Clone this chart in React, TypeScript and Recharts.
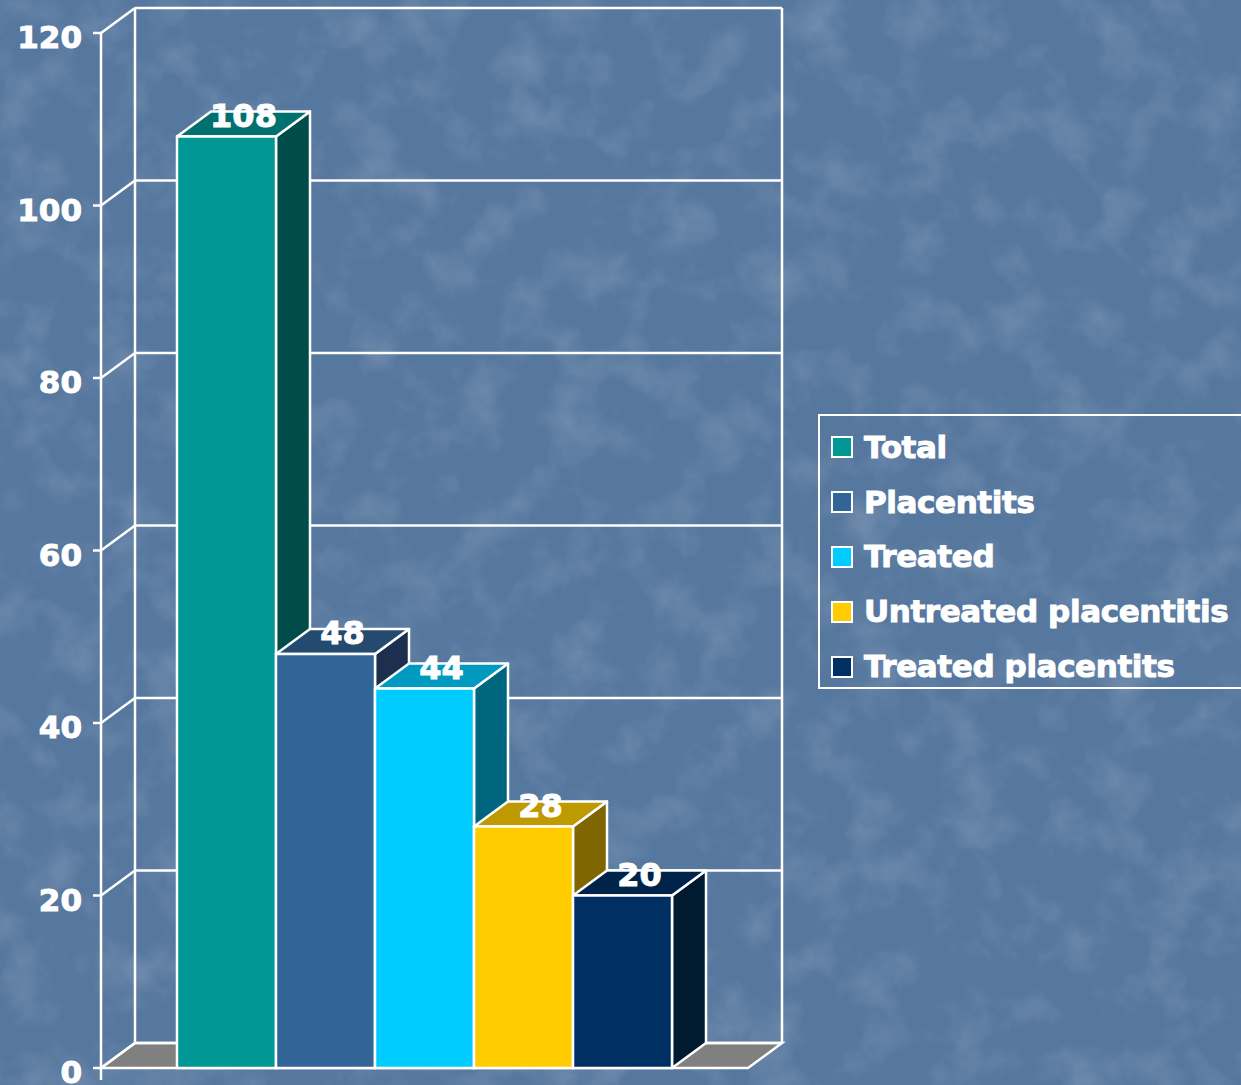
import React from "react";
import { BarChart, Bar, XAxis, YAxis, CartesianGrid, LabelList } from "recharts";

const seriesNames = ["Total", "Placentits", "Treated", "Untreated placentitis", "Treated placentits"];
const seriesValues = [108, 48, 44, 28, 20];
const yTicks = [0, 20, 40, 60, 80, 100, 120];

// front / top / side shades for each bar
const frontColors = ["#009794", "#316497", "#00ccff", "#ffcc00", "#002f63"];
const topColors = ["#00716f", "#244a70", "#0099bf", "#bf9900", "#00234a"];
const sideColors = ["#004c4a", "#1d2f4e", "#006680", "#806600", "#001a30"];

const keys = seriesNames.map((_, i) => `s${i}`);
const chartData = [
  seriesValues.reduce((row: Record<string, number | string>, v, i) => {
    row[keys[i]] = v;
    return row;
  }, { name: "" }),
];

const W = 1241;
const H = 1085;
const DX = 34;
const DY = 25;
const FONT = "'DejaVu Sans', Verdana, sans-serif";
const LINE = 2.5;

function Bar3D(props: any) {
  const { x, y, width, height, index, fillIndex } = props;
  const i = fillIndex;
  const w = width;
  const h = height;
  const top = `${x},${y} ${x + DX},${y - DY} ${x + w + DX},${y - DY} ${x + w},${y}`;
  const side = `${x + w},${y} ${x + w + DX},${y - DY} ${x + w + DX},${y + h - DY} ${x + w},${y + h}`;
  return (
    <g key={index}>
      <polygon points={side} fill={sideColors[i]} stroke="#fff" strokeWidth={LINE} strokeLinejoin="round" />
      <polygon points={top} fill={topColors[i]} stroke="#fff" strokeWidth={LINE} strokeLinejoin="round" />
      <rect x={x} y={y} width={w} height={h} fill={frontColors[i]} stroke="#fff" strokeWidth={LINE} />
    </g>
  );
}

function WallLine(props: any) {
  const { x1, y1, x2, y, height } = props;
  const bottom = typeof y === "number" && typeof height === "number" ? y + height : 1068;
  const topY = typeof y === "number" ? y : 33;
  const isFloor = Math.abs(y1 - bottom) < 1;
  const isTop = Math.abs(y1 - topY) < 1;
  return (
    <g>
      {isFloor && (
        <polygon
          points={`${x1},${y1} ${x1 + DX},${y1 - DY} ${x2 + DX},${y1 - DY} ${x2},${y1}`}
          fill="#808080"
          stroke="#fff"
          strokeWidth={LINE}
        />
      )}
      <line x1={x1} y1={y1} x2={x1 + DX} y2={y1 - DY} stroke="#fff" strokeWidth={LINE} />
      <line x1={x1 + DX} y1={y1 - DY} x2={x2 + DX} y2={y1 - DY} stroke="#fff" strokeWidth={LINE} />
      {isTop && (
        <>
          <line x1={x1 + DX} y1={y1 - DY} x2={x1 + DX} y2={bottom - DY} stroke="#fff" strokeWidth={LINE} />
          <line x1={x2 + DX} y1={y1 - DY} x2={x2 + DX} y2={bottom - DY} stroke="#fff" strokeWidth={LINE} />
        </>
      )}
    </g>
  );
}

function YTick(props: any) {
  const { y, payload } = props;
  const ax = 101;
  return (
    <g>
      <line x1={ax - 8} y1={y} x2={ax} y2={y} stroke="#fff" strokeWidth={LINE} />
      {payload.value === 0 && <line x1={ax} y1={y} x2={ax} y2={y + 12} stroke="#fff" strokeWidth={LINE} />}
      <text
        x={ax - 19}
        y={y + 15}
        textAnchor="end"
        fill="#fff"
        stroke="#fff"
        strokeWidth={1}
        fontFamily={FONT}
        fontWeight="bold"
        fontSize={31}
      >
        {payload.value}
      </text>
    </g>
  );
}

function ValueLabel(props: any) {
  const { x, y, width, value } = props;
  return (
    <text
      x={x + width / 2 + DX / 2}
      y={y - 10}
      textAnchor="middle"
      fill="#fff"
      stroke="#fff"
      strokeWidth={1}
      fontFamily={FONT}
      fontWeight="bold"
      fontSize={32}
    >
      {value}
    </text>
  );
}

function Legend3D() {
  return (
    <div
      style={{
        position: "absolute",
        left: 818,
        top: 414,
        width: 440,
        height: 275,
        border: "2px solid #fff",
        boxSizing: "border-box",
        paddingTop: 4,
      }}
    >
      {seriesNames.map((n, i) => (
        <div key={n} style={{ display: "flex", alignItems: "center", height: 54.8, marginLeft: 11 }}>
          <div
            style={{
              width: 18,
              height: 18,
              background: frontColors[i],
              border: "2px solid #fff",
              marginRight: 11,
            }}
          />
          <span
            style={{
              color: "#fff",
              fontFamily: FONT,
              fontWeight: "bold",
              fontSize: 31,
              whiteSpace: "nowrap",
              lineHeight: 1,
              WebkitTextStroke: "1px #fff",
              letterSpacing: -0.4,
            }}
          >
            {n}
          </span>
        </div>
      ))}
    </div>
  );
}

export default function App() {
  return (
    <div
      style={{
        position: "fixed",
        left: 0,
        top: 0,
        width: W,
        height: H,
        overflow: "hidden",
        background: "#56779e",
      }}
    >
      <svg width={W} height={H} style={{ position: "absolute", left: 0, top: 0 }}>
        <filter id="bgnoise">
          <feTurbulence type="fractalNoise" baseFrequency="0.02 0.02" numOctaves={4} seed={7} />
          <feColorMatrix
            type="matrix"
            values="0 0 0 0 1  0 0 0 0 1  0 0 0 0 1  1.8 0 0 0 -0.8"
          />
        </filter>
        <rect width={W} height={H} filter="url(#bgnoise)" opacity={0.18} />
      </svg>
      <div style={{ position: "absolute", left: 0, top: 0 }}>
        <BarChart
          width={W}
          height={H}
          data={chartData}
          margin={{ top: 33, right: 493, bottom: 17, left: 0 }}
          barCategoryGap={76}
          barGap={0}
        >
          <CartesianGrid horizontal={(p: any) => <WallLine {...p} />} vertical={false} stroke="#fff" />
          <XAxis dataKey="name" height={0} tick={false} tickLine={false} axisLine={{ stroke: "#fff", strokeWidth: LINE }} />
          <YAxis
            width={101}
            domain={[0, 120]}
            ticks={yTicks}
            interval={0}
            tickLine={false}
            axisLine={{ stroke: "#fff", strokeWidth: LINE }}
            tick={(p: any) => <YTick {...p} />}
          />
          {keys.map((k, i) => (
            <Bar
              key={k}
              dataKey={k}
              name={seriesNames[i]}
              isAnimationActive={false}
              shape={(p: any) => <Bar3D {...p} fillIndex={i} />}
            >
              <LabelList dataKey={k} content={(p: any) => <ValueLabel {...p} />} />
            </Bar>
          ))}
        </BarChart>
      </div>
      <Legend3D />
    </div>
  );
}
